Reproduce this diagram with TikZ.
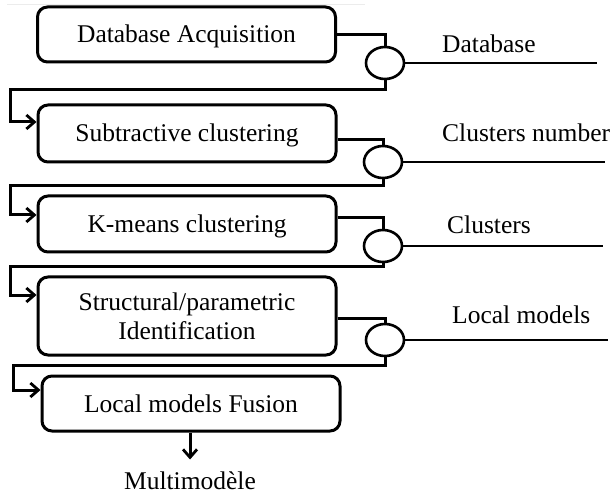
\documentclass[tikz,border=0pt]{standalone}
\usepackage{fontspec}
\setmainfont{Liberation Serif}
\usetikzlibrary{calc,arrows.meta,shapes.geometric}
\begin{document}
\begin{tikzpicture}[x=1pt,y=-1pt,
  every node/.style={font=\fontsize{25.5}{30}\selectfont},
  stage/.style={draw,line width=3pt,rounded corners=10pt,minimum width=298pt,inner sep=0pt,align=center},
  oneline/.style={text height=17pt,text depth=-1.5pt},
  junction/.style={draw,ellipse,line width=2.6pt,minimum width=38pt,minimum height=32pt,inner sep=0pt},
  link/.style={line width=3pt},
  feed/.style={link,-{Straight Barb[length=8pt,width=14pt,line width=2.8pt]}},
  outline/.style={line width=1.5pt},
  tag/.style={anchor=base west,inner sep=0pt}]
\useasboundingbox (0,0) rectangle (616,497);
\draw[gray!15,line width=0.8pt] (7,4) -- (365,4);

% processing stages
\node[stage,oneline,minimum height=55pt] (b1) at (186.5,34.5) {Database Acquisition};
\node[stage,oneline,minimum height=57pt] (b2) at (187,133.5) {Subtractive clustering};
\node[stage,oneline,minimum height=56pt] (b3) at (187,224) {K-means clustering};
\node[stage,minimum height=78pt] (b4) at (187,316) {Structural/parametric\\[-1pt]Identification};
\node[stage,oneline,minimum height=55pt] (b5) at (191,403.5) {Local models Fusion};

% junctions
\node[junction] (e1) at (385,63) {};
\node[junction] (e2) at (383,162) {};
\node[junction] (e3) at (383,246) {};
\node[junction] (e4) at (385,340) {};

% output lines and their labels
\coordinate (o1) at (597,63);
\coordinate (o2) at (605,162);
\coordinate (o3) at (603,246);
\coordinate (o4) at (608,340);
\draw[outline] (e1.east) -- (o1);
\draw[outline] (e2.east) -- (o2);
\draw[outline] (e3.east) -- (o3);
\draw[outline] (e4.east) -- (o4);
\node[tag] (t1) at (442,53) {Database};
\node[tag] (t2) at (442,142) {Clusters number};
\node[tag] (t3) at (447,234) {Clusters};
\node[tag] (t4) at (452,323) {Local models};

% stage to junction
\draw[link] (b1.east) -| (e1.north);
\draw[link] ($(b2.east)+(0,6.5)$) -| (e2.north);
\draw[link] ($(b3.east)+(0,-6)$) -| (e3.north);
\draw[link] ($(b4.east)+(0,2)$) -| (e4.north);

% junction back to the next stage
\coordinate (r1) at (10,90);
\coordinate (r2) at (10,186);
\coordinate (r3) at (10,267);
\coordinate (r4) at (13,365);
\draw[feed] (e1.south) |- (r1) |- ($(b2.west)+(0,-11.5)$);
\draw[feed] (e2.south) |- (r2) |- ($(b3.west)+(0,-9)$);
\draw[feed] (e3.south) |- (r3) |- ($(b4.west)+(0,-21)$);
\draw[feed] (e4.south) |- (r4) |- ($(b5.west)+(0,-13.5)$);

% final result
\node[anchor=base,inner sep=0pt] (m) at (190,489) {Multimodèle};
\draw[feed] (b5.south -| m) -- ++(0,27);
\end{tikzpicture}
\end{document}
